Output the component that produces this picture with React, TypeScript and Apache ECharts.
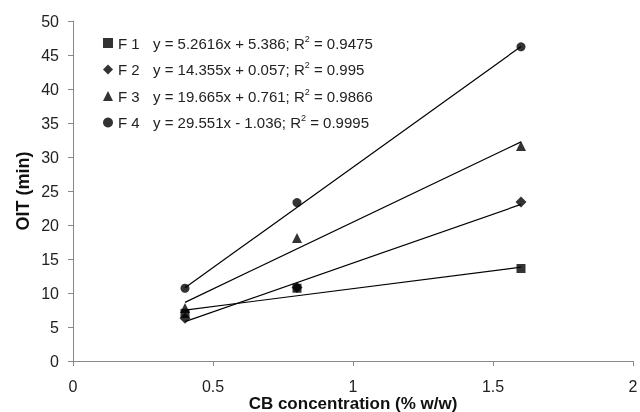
import React, { useEffect, useRef } from "react";
import * as echarts from "echarts";

const seriesNames = ["F 1", "F 2", "F 3", "F 4"];
const symbols = ["rect", "diamond", "triangle", "circle"];
const xValues = [0.4, 0.8, 1.6];
const f1 = [7.0, 10.7, 13.6];
const f2 = [6.3, 10.8, 23.4];
const f3 = [7.8, 18.1, 31.6];
const f4 = [10.7, 23.3, 46.2];
const slopes = [5.2616, 14.355, 19.665, 29.551];
const intercepts = [5.386, 0.057, 0.761, -1.036];
const equations = [
  "y = 5.2616x + 5.386; R",
  "y = 14.355x + 0.057; R",
  "y = 19.665x + 0.761; R",
  "y = 29.551x - 1.036; R",
];
const r2 = ["0.9475", "0.995", "0.9866", "0.9995"];
const trendRange = [0.4, 1.6];

export default function App() {
  const ref = useRef<HTMLDivElement>(null);
  useEffect(() => {
    if (!ref.current) return;
    const chart = echarts.init(ref.current, null, { renderer: "svg" });
    const all = [f1, f2, f3, f4];
    const font = "'Liberation Sans', Arial, sans-serif";
    const scatter = all.map((vals, i) => ({
      name: seriesNames[i],
      type: "scatter",
      symbol: symbols[i],
      symbolSize: i === 1 ? 11 : i === 2 ? 10 : 9,
      itemStyle: { color: "#000" },
      data: vals.map((v, j) => [xValues[j], v]),
      z: 3,
    }));
    const trends = slopes.map((s, i) => ({
      name: "trend" + i,
      type: "line",
      symbol: "none",
      lineStyle: { color: "#000", width: 1.2 },
      data: trendRange.map((x) => [x, s * x + intercepts[i]]),
      z: 2,
    }));
    chart.setOption({
      animation: false,
      textStyle: { fontFamily: font },
      grid: { left: 73, right: 7, top: 21, bottom: 51, containLabel: false, outerBoundsMode: "none" },
      legend: {
        orient: "vertical",
        left: 103,
        top: 34,
        padding: 0,
        itemGap: 10,
        itemWidth: 10,
        itemHeight: 10,
        data: seriesNames.map((n, i) => ({ name: n, icon: symbols[i] })),
        formatter: (name: string) => {
          const i = seriesNames.indexOf(name);
          return `{f|${name}}{eq|${equations[i]}}{sup|2}{eq| = ${r2[i]}}`;
        },
        textStyle: {
          color: "#222",
          fontFamily: font,
          rich: {
            f: { fontSize: 15, width: 35, lineHeight: 18, fontFamily: font, color: "#222" },
            eq: { fontSize: 15, lineHeight: 18, fontFamily: font, color: "#222" },
            sup: { fontSize: 9, lineHeight: 12, verticalAlign: "top", fontFamily: font, color: "#222" },
          },
        },
      },
      xAxis: {
        type: "value",
        min: 0,
        max: 2,
        interval: 0.5,
        name: "CB concentration (% w/w)",
        nameLocation: "middle",
        nameGap: 34,
        nameMoveOverlap: false,
        nameTextStyle: { fontWeight: "bold", fontSize: 17, color: "#111", fontFamily: font },
        splitLine: { show: false },
        axisLine: { lineStyle: { color: "#888" } },
        axisTick: { length: 5, lineStyle: { color: "#888" } },
        axisLabel: { fontSize: 16, color: "#222", margin: 17, fontFamily: font },
      },
      yAxis: {
        type: "value",
        min: 0,
        max: 50,
        interval: 5,
        name: "OIT (min)",
        nameLocation: "middle",
        nameGap: 41,
        nameMoveOverlap: false,
        nameTextStyle: { fontWeight: "bold", fontSize: 18, color: "#111", fontFamily: font },
        splitLine: { show: false },
        axisLine: { show: true, lineStyle: { color: "#888" } },
        axisTick: { show: true, length: 5, lineStyle: { color: "#888" } },
        axisLabel: { fontSize: 16, color: "#222", margin: 14, fontFamily: font },
      },
      series: [...trends, ...scatter],
    });
    return () => chart.dispose();
  }, []);
  return <div ref={ref} style={{ width: 640, height: 412, position: "fixed", left: 0, top: 0 }} />;
}
